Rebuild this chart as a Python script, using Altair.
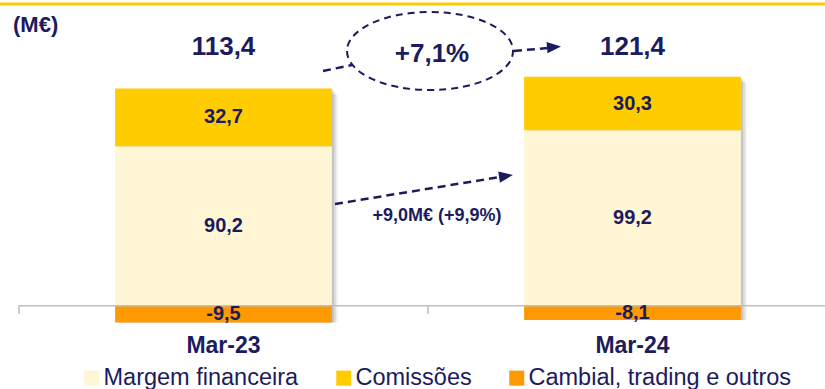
import altair as alt
import pandas as pd

# ---- data ----
categories = ["Mar-23", "Mar-24"]
series = ["Margem financeira", "Comissões", "Cambial, trading e outros"]
margem = [90.2, 99.2]
comissoes = [32.7, 30.3]
cambial = [-9.5, -8.1]
unit_label = "(M€)"
growth_total = "+7,1%"
growth_margem = "+9,0M€ (+9,9%)"

# ---- style ----
colors = ["#FFF6D5", "#FFCC00", "#FF9900"]
NAVY = "#1B1B5E"
FONT = "Liberation Sans"
W, H = 825, 389

def fmt(v):
    return f"{v:.1f}".replace(".", ",")

rows = []
for i, c in enumerate(categories):
    m, co, ca = margem[i], comissoes[i], cambial[i]
    rows.append(dict(cat=c, serie=series[0], value=m, ord=0, mid=m / 2, label=fmt(m)))
    rows.append(dict(cat=c, serie=series[1], value=co, ord=1, mid=m + co / 2, label=fmt(co)))
    rows.append(dict(cat=c, serie=series[2], value=ca, ord=2, mid=ca / 2, label=fmt(ca)))
df = pd.DataFrame(rows)

tot = pd.DataFrame({
    "cat": categories,
    "pos": [margem[i] + comissoes[i] for i in range(len(categories))],
    "neg": cambial,
    "total": [fmt(margem[i] + comissoes[i] + cambial[i]) for i in range(len(categories))],
    "zero": [0.0] * len(categories),
    "tick_end": [-4.5] * len(categories),
})
one = pd.DataFrame({"a": [0]})

xs = alt.Scale(domain=categories, range=[19, 837], paddingInner=0, paddingOuter=0)
ys = alt.Scale(domain=[-47.1, 172.9], nice=False, zero=False)
BAND = 0.53
STEP = (837 - 19) / len(categories)

top_line = alt.Chart(one).mark_rule(color="#FFCC00", strokeWidth=3).encode(
    x=alt.value(0), x2=alt.value(W), y=alt.value(4))

shadows = []
for k, op in [(2, 0.22), (4, 0.16), (6, 0.1)]:
    shadows.append(
        alt.Chart(tot).mark_bar(color="#6f6f6f", opacity=op, xOffset=k, yOffset=k,
                                width=alt.RelativeBandSize(BAND)).encode(
            x=alt.X("cat:N", scale=xs, axis=None),
            y=alt.Y("pos:Q", scale=ys, axis=None),
            y2="neg:Q",
        )
    )

bars = alt.Chart(df).mark_bar(width=alt.RelativeBandSize(BAND)).encode(
    x=alt.X("cat:N", scale=xs, axis=None),
    y=alt.Y("value:Q", scale=ys, axis=None, stack="zero"),
    color=alt.Color("serie:N", scale=alt.Scale(domain=series, range=colors),
                    legend=alt.Legend(title=None, orient="none", direction="horizontal",
                                      legendX=80, legendY=366, padding=0, symbolType="square",
                                      symbolSize=225, symbolStrokeWidth=0,
                                      labelFont=FONT, labelFontSize=23.5, labelColor=NAVY,
                                      labelOffset=0, columnPadding=33, labelLimit=400)),
    order=alt.Order("ord:Q"),
)

axis_line = alt.Chart(tot.head(1)).mark_rule(color="#BFBFBF", strokeWidth=1.6).encode(
    x=alt.value(19), x2=alt.value(W), y=alt.Y("zero:Q", scale=ys, axis=None))

ticks = alt.Chart(tot).mark_rule(color="#BFBFBF", strokeWidth=1.6, xOffset=-STEP / 2).encode(
    x=alt.X("cat:N", scale=xs, axis=None),
    y=alt.Y("zero:Q", scale=ys, axis=None), y2="tick_end:Q")

seg_labels = alt.Chart(df).mark_text(font=FONT, fontSize=20, fontWeight="bold", color=NAVY,
                                     baseline="middle", align="center").encode(
    x=alt.X("cat:N", scale=xs, axis=None),
    y=alt.Y("mid:Q", scale=ys, axis=None),
    text="label:N")

totals = alt.Chart(tot).mark_text(font=FONT, fontSize=26, fontWeight="bold", color=NAVY,
                                  baseline="middle", align="center").encode(
    x=alt.X("cat:N", scale=xs, axis=None), y=alt.value(47), text="total:N")

cat_labels = alt.Chart(tot).mark_text(font=FONT, fontSize=23, fontWeight="bold", color=NAVY,
                                      baseline="middle", align="center").encode(
    x=alt.X("cat:N", scale=xs, axis=None), y=alt.value(346), text="cat:N")

unit = alt.Chart(one).mark_text(font=FONT, fontSize=22, fontWeight="bold", color=NAVY,
                                align="left", baseline="middle", text=unit_label).encode(
    x=alt.value(13), y=alt.value(25))

ellipse = alt.Chart(one).mark_point(
    shape="M -1 0 A 1 0.47 0 1 0 1 0 A 1 0.47 0 1 0 -1 0",
    size=166 * 166, filled=False, stroke=NAVY, strokeWidth=2, strokeDash=[7, 5], opacity=1
).encode(x=alt.value(430), y=alt.value(51))

seg_a = alt.Chart(one).mark_rule(color=NAVY, strokeWidth=2.5, strokeDash=[8, 5]).encode(
    x=alt.value(323), y=alt.value(71), x2=alt.value(352), y2=alt.value(65))
seg_b = alt.Chart(one).mark_rule(color=NAVY, strokeWidth=2.5, strokeDash=[8, 5]).encode(
    x=alt.value(514), y=alt.value(51), x2=alt.value(548), y2=alt.value(48))
seg_c = alt.Chart(one).mark_rule(color=NAVY, strokeWidth=2.5, strokeDash=[8, 5]).encode(
    x=alt.value(335), y=alt.value(204), x2=alt.value(500), y2=alt.value(177))

ARROW = "M -1 -0.8 L 1 0 L -1 0.8 Z"
head_a = alt.Chart(one).mark_point(shape=ARROW, size=196, filled=True, color=NAVY, opacity=1,
                                   angle=355).encode(x=alt.value(554), y=alt.value(47))
head_b = alt.Chart(one).mark_point(shape=ARROW, size=196, filled=True, color=NAVY, opacity=1,
                                   angle=351).encode(x=alt.value(506), y=alt.value(176))

pct = alt.Chart(one).mark_text(font=FONT, fontSize=26, fontWeight="bold", color=NAVY,
                               align="center", baseline="middle", text=growth_total).encode(
    x=alt.value(432), y=alt.value(54))
ann = alt.Chart(one).mark_text(font=FONT, fontSize=18, fontWeight="bold", color=NAVY,
                               align="center", baseline="middle", text=growth_margem).encode(
    x=alt.value(437), y=alt.value(216))

chart = alt.layer(
    top_line, *shadows, bars, axis_line, ticks, seg_labels, totals, cat_labels, unit,
    ellipse, seg_a, seg_b, seg_c, head_a, head_b, pct, ann
).properties(
    width=W, height=H, autosize=alt.AutoSizeParams(type="none"), padding=0,
    background="white"
).configure_view(stroke=None)

chart.save("out.html", embed_options={"renderer": "svg", "actions": False})
